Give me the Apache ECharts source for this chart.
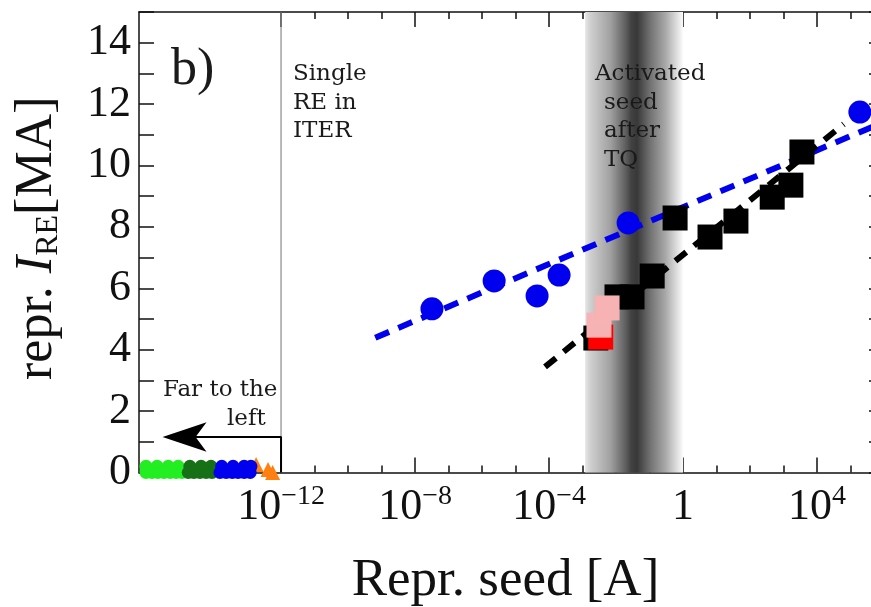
<!DOCTYPE html>
<html>
<head>
<meta charset="utf-8">
<style>
  html, body { margin: 0; padding: 0; background: #ffffff; }
  #chart { width: 871px; height: 607px; }
</style>
<script src="https://cdn.jsdelivr.net/npm/echarts@6/dist/echarts.min.js"></script>
</head>
<body>
<div id="chart"></div>
<script>
// ---- data (seed current in A, runaway current in MA) ----
const blueSeedA = [3.2e-8, 2.3e-6, 4.4e-5, 2.0e-4, 2.3e-2, 1.9e5];
const blueIreMA = [5.33, 6.24, 5.75, 6.43, 8.13, 11.74];

const blackSeedA = [2.5e-3, 1.07e-2, 3.0e-2, 0.12, 0.58, 6.4, 38, 460, 1660, 3550];
const blackIreMA = [4.38, 5.72, 5.72, 6.40, 8.29, 7.67, 8.19, 8.97, 9.36, 10.44];

const redSeedA = [3.5e-3];
const redIreMA = [4.41];

const pinkSeedA = [3.1e-3, 5.4e-3];
const pinkIreMA = [4.80, 5.36];

// dashed trend lines (end points)
const blueFitSeedA = [6.5e-10, 1e6];
const blueFitIreMA = [4.39, 11.42];
const blackFitSeedA = [7.6e-5, 6.3e4];
const blackFitIreMA = [3.44, 11.35];

// cases lying far to the left of the single-RE limit
const greenSeedA = [9.3e-17, 2.0e-16, 4.3e-16, 8.5e-16,
                    9.3e-17, 1.4e-16, 2.1e-16, 3.2e-16, 4.9e-16, 7.4e-16, 1.1e-15];
const greenIreMA = [0.2, 0.2, 0.2, 0.2, 0, 0, 0, 0, 0, 0, 0];
const darkGreenSeedA = [1.9e-15, 4.1e-15, 8.1e-15,
                        1.7e-15, 2.5e-15, 3.8e-15, 5.8e-15, 8.7e-15];
const darkGreenIreMA = [0.2, 0.2, 0.2, 0, 0, 0, 0, 0];
const farBlueSeedA = [1.7e-14, 3.7e-14, 7.9e-14, 1.26e-13,
                      1.5e-14, 2.3e-14, 3.5e-14, 5.2e-14, 7.9e-14, 1.2e-13];
const farBlueIreMA = [0.2, 0.2, 0.2, 0.2, 0, 0, 0, 0, 0, 0];
const orangeSeedA = [1.8e-13, 4.1e-13, 5.6e-13];
const orangeIreMA = [0.26, 0.10, 0.0];

// reference markers
const singleReSeedA = [1e-12, 1e-12];
const singleReIreMA = [0, 15];
const activatedBandSeedA = [1.2e-3, 1];
const farLeftBracketSeedA = [1e-12, 1e-12, 1.0e-15];
const farLeftBracketIreMA = [0, 1.155, 1.155];
const arrowHeadSeedA = 2.9e-16;

// axes
const xMinSeedA = 5.75e-17;
const xMaxSeedA = 1e6;
const xLabelSeedA = [1e-12, 1e-8, 1e-4, 1, 1e4];
const xDecadeSeedA = [1e-12, 1e-11, 1e-10, 1e-9, 1e-8, 1e-7, 1e-6, 1e-5, 1e-4,
                      1e-3, 1e-2, 1e-1, 1, 1e1, 1e2, 1e3, 1e4, 1e5];
const yMin = 0, yMax = 15, yStep = 1;

// ---- styling ----
const SERIF = "'Liberation Serif', 'DejaVu Serif', serif";
const NOTE = "23px 'DejaVu Serif', serif";
const INK = '#111111';
const NOTE_INK = '#1a1a1a';
const frameLine = { color: INK, width: 1.5 };

function zip(xs, ys) { return xs.map((x, i) => [x, ys[i]]); }

function expLabel(v) {
  const e = Math.round(Math.log10(v));
  if (e === 0) return '{b|1}';
  return '{b|10}{s|' + (e < 0 ? '\u2212' : '') + Math.abs(e) + '}';
}

function xAxisDef(position, ticks, tickLen, withLine, withLabels) {
  const ax = {
    type: 'log', logBase: 10, position: position,
    min: xMinSeedA, max: xMaxSeedA,
    axisLine: { show: withLine, onZero: false, lineStyle: frameLine },
    axisTick: { show: true, inside: true, length: tickLen, customValues: ticks, lineStyle: frameLine },
    axisLabel: { show: false },
    splitLine: { show: false },
    minorTick: { show: false },
    minorSplitLine: { show: false }
  };
  if (withLabels) {
    ax.axisLabel = {
      show: true, customValues: xLabelSeedA, margin: 10,
      formatter: expLabel,
      rich: {
        b: { fontFamily: SERIF, fontSize: 44, color: INK, lineHeight: 50 },
        s: { fontFamily: SERIF, fontSize: 28, color: INK, lineHeight: 30, verticalAlign: 'top' }
      }
    };
    ax.name = 'Repr. seed [A]';
    ax.nameLocation = 'middle';
    ax.nameGap = 82;
    ax.nameTextStyle = { fontFamily: SERIF, fontSize: 53, color: INK, padding: [0, 12, 0, 0] };
  }
  return ax;
}

function yAxisDef(position, withLabels) {
  const ax = {
    type: 'value', position: position, min: yMin, max: yMax, interval: yStep,
    axisLine: { show: true, onZero: false, lineStyle: frameLine },
    axisTick: { show: true, inside: true, length: 15, lineStyle: frameLine },
    axisLabel: { show: false },
    splitLine: { show: false }
  };
  if (withLabels) {
    ax.axisLabel = {
      show: true, margin: 8, fontFamily: SERIF, fontSize: 44, color: INK,
      formatter: v => (v % 2 === 0 ? String(v) : '')
    };
    ax.name = '{n|repr. }{i|I}{s|RE}{n|[MA]}';
    ax.nameLocation = 'middle';
    ax.nameRotate = 90;
    ax.nameGap = 74;
    ax.nameTextStyle = {
      padding: [0, 0, 0, 8],
      rich: {
        n: { fontFamily: SERIF, fontSize: 52, color: INK, lineHeight: 56 },
        i: { fontFamily: SERIF, fontSize: 52, fontStyle: 'italic', color: INK, lineHeight: 56 },
        s: { fontFamily: SERIF, fontSize: 32, color: INK, lineHeight: 42, verticalAlign: 'bottom' }
      }
    };
  }
  return ax;
}

function markers(name, xs, ys, symbol, size, color, z) {
  return {
    name: name, type: 'scatter', data: zip(xs, ys), symbol: symbol, symbolSize: size,
    itemStyle: { color: color, opacity: 1 }, z: z, silent: true, clip: true
  };
}

function plainLine(name, xs, ys, color, width, dash, z) {
  return {
    name: name, type: 'line', z: z, silent: true, symbol: 'none',
    data: zip(xs, ys),
    lineStyle: { color: color, width: width, type: dash }
  };
}

const chart = echarts.init(document.getElementById('chart'), null, { renderer: 'canvas', width: 871, height: 607 });

const option = {
  animation: false,
  backgroundColor: '#ffffff',
  textStyle: { fontFamily: SERIF },
  grid: { left: 139, top: 12, width: 745, height: 460.5, containLabel: false, outerBoundsMode: 'none' },
  xAxis: [
    xAxisDef('bottom', xLabelSeedA, 15, true, true),
    xAxisDef('bottom', xDecadeSeedA, 7, false, false),
    xAxisDef('top', xLabelSeedA, 15, true, false),
    xAxisDef('top', xDecadeSeedA, 7, false, false)
  ],
  yAxis: [yAxisDef('left', true), yAxisDef('right', false)],
  series: [
    {
      name: 'activated seed band', type: 'line', data: [], z: 1, silent: true,
      markArea: {
        silent: true,
        itemStyle: {
          opacity: 1,
          color: {
            type: 'linear', x: 0, y: 0, x2: 1, y2: 0,
            colorStops: [
              { offset: 0.00, color: '#e6e6e6' },
              { offset: 0.05, color: '#d0d0d0' },
              { offset: 0.26, color: '#a0a0a0' },
              { offset: 0.41, color: '#606060' },
              { offset: 0.47, color: '#424242' },
              { offset: 0.53, color: '#383838' },
              { offset: 0.66, color: '#707070' },
              { offset: 0.82, color: '#a8a8a8' },
              { offset: 0.95, color: '#e4e4e4' },
              { offset: 1.00, color: '#fbfbfb' }
            ]
          }
        },
        data: [[{ xAxis: activatedBandSeedA[0] }, { xAxis: activatedBandSeedA[1] }]]
      }
    },
    plainLine('single RE in ITER', singleReSeedA, singleReIreMA, '#8a8a8a', 1.2, 'solid', 2),
    plainLine('far to the left', farLeftBracketSeedA, farLeftBracketIreMA, '#000000', 2, 'solid', 3),
    {
      name: 'arrow', type: 'scatter', z: 3, silent: true,
      data: [[arrowHeadSeedA, farLeftBracketIreMA[1]]],
      symbol: 'arrow', symbolSize: [22, 44], symbolRotate: 90,
      itemStyle: { color: '#000000', opacity: 1 }
    },
    plainLine('blue fit', blueFitSeedA, blueFitIreMA, '#0000ee', 6, [15, 10], 3),
    plainLine('black fit', blackFitSeedA, blackFitIreMA, '#000000', 6, [14, 10], 3),
    markers('green', greenSeedA, greenIreMA, 'circle', 13, '#22ee22', 4),
    markers('dark green', darkGreenSeedA, darkGreenIreMA, 'circle', 13, '#167016', 5),
    markers('orange', orangeSeedA, orangeIreMA, 'triangle', 15, '#ff8010', 5),
    markers('far blue', farBlueSeedA, farBlueIreMA, 'circle', 13, '#0000ee', 6),
    markers('blue', blueSeedA, blueIreMA, 'circle', 23, '#0000ee', 6),
    markers('black', blackSeedA, blackIreMA, 'rect', 25, '#000000', 6),
    markers('red', redSeedA, redIreMA, 'rect', 25, '#ff0000', 7),
    markers('pink', pinkSeedA, pinkIreMA, 'rect', 25, '#f7b3b3', 8)
  ],
  graphic: [
    { type: 'text', left: 171, top: 44, z: 20, style: { text: 'b)', font: "52px 'Liberation Serif', serif", fill: '#1a1a1a' } },
    { type: 'text', left: 293, top: 60, z: 20, style: { text: 'Single\nRE in\nITER', font: NOTE, lineHeight: 28.5, fill: NOTE_INK } },
    { type: 'text', left: 595, top: 60, z: 20, style: { text: 'Activated', font: NOTE, lineHeight: 28.5, fill: NOTE_INK } },
    { type: 'text', left: 604, top: 88.5, z: 20, style: { text: 'seed\nafter\nTQ', font: NOTE, lineHeight: 28.5, fill: NOTE_INK } },
    { type: 'text', left: 163, top: 376, z: 20, style: { text: 'Far to the', font: NOTE, lineHeight: 28, fill: NOTE_INK } },
    { type: 'text', left: 227, top: 405, z: 20, style: { text: 'left', font: NOTE, lineHeight: 28, fill: NOTE_INK } }
  ]
};

chart.setOption(option);
</script>
</body>
</html>
